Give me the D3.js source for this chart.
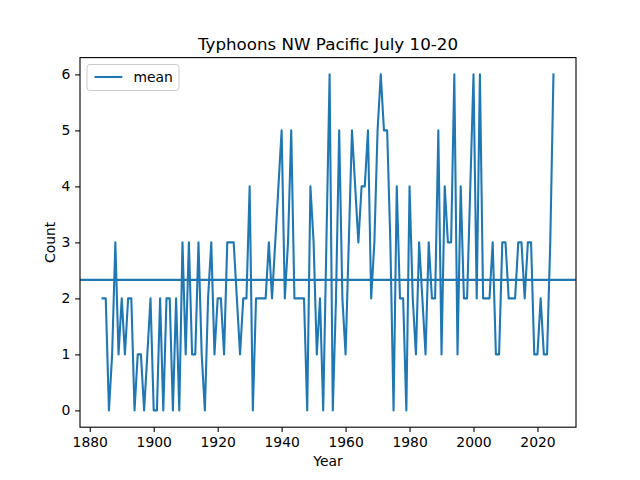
<!DOCTYPE html>
<html>
<head>
<meta charset="utf-8">
<script src="https://cdn.jsdelivr.net/npm/d3@7"></script>
<style>
  body { margin: 0; background: #fff; }
  text { font-family: "DejaVu Sans", sans-serif; }
</style>
</head>
<body>
<div id="chart"></div>
<script>
const width = 640;
const height = 480;

// typhoon counts per year
const years = d3.range(1884, 2026);
const counts = [
  2, 2, 0, 1, 3, 1, 2, 1, 2, 2,   // 1884-1893
  0, 1, 1, 0, 1, 2, 0, 0, 2, 0,   // 1894-1903
  2, 2, 0, 2, 0, 3, 1, 3, 1, 1,   // 1904-1913
  3, 1, 0, 2, 3, 1, 2, 2, 1, 3,   // 1914-1923
  3, 3, 2, 1, 2, 2, 4, 0, 2, 2,   // 1924-1933
  2, 2, 3, 2, 3, 4, 5, 2, 3, 5,   // 1934-1943
  2, 2, 2, 2, 0, 4, 3, 1, 2, 0,   // 1944-1953
  3, 6, 0, 2, 5, 2, 1, 3, 5, 4,   // 1954-1963
  3, 4, 4, 5, 2, 3, 5, 6, 5, 5,   // 1964-1973
  3, 0, 4, 2, 2, 0, 4, 2, 1, 3,   // 1974-1983
  2, 1, 3, 2, 2, 5, 1, 4, 3, 3,   // 1984-1993
  6, 1, 4, 2, 2, 4, 6, 2, 6, 2,   // 1994-2003
  2, 2, 3, 1, 1, 3, 3, 2, 2, 2,   // 2004-2013
  3, 3, 2, 3, 3, 1, 1, 2, 1, 1,   // 2014-2023
  3, 6                            // 2024-2025
];
const xTicks = [1880, 1900, 1920, 1940, 1960, 1980, 2000, 2020];
const yTicks = [0, 1, 2, 3, 4, 5, 6];

const data = years.map((y, i) => ({ year: y, count: counts[i] }));
const mean = d3.mean(counts);

const m = { left: 80, right: 576, top: 57.6, bottom: 427.2 };
const blue = "#1f77b4";
const fs = 13.9;

const svg = d3
  .select("#chart")
  .append("svg")
  .attr("width", width)
  .attr("height", height);

// matplotlib style 5% margins
const xSpan = d3.max(years) - d3.min(years);
const x = d3
  .scaleLinear()
  .domain([d3.min(years) - xSpan * 0.05, d3.max(years) + xSpan * 0.05])
  .range([m.left, m.right]);

const y = d3
  .scaleLinear()
  .domain([-0.3, 6.3])
  .range([m.bottom, m.top]);

const line = d3
  .line()
  .x((d) => x(d.year))
  .y((d) => y(d.count));

svg
  .append("path")
  .datum(data)
  .attr("d", line)
  .attr("fill", "none")
  .attr("stroke", blue)
  .attr("stroke-width", 2.08)
  .attr("stroke-linejoin", "round")
  .attr("stroke-linecap", "square");

// mean line across the whole axes
svg
  .append("line")
  .attr("x1", m.left)
  .attr("x2", m.right)
  .attr("y1", y(mean))
  .attr("y2", y(mean))
  .attr("stroke", blue)
  .attr("stroke-width", 2.08);

// axes
const xAxis = svg
  .append("g")
  .attr("transform", `translate(0,${m.bottom})`)
  .call(d3.axisBottom(x).tickValues(xTicks).tickFormat(d3.format("d")).tickSize(4.86).tickPadding(4.86));

const yAxis = svg
  .append("g")
  .attr("transform", `translate(${m.left},0)`)
  .call(d3.axisLeft(y).tickValues(yTicks).tickFormat(d3.format("d")).tickSize(4.86).tickPadding(4.86));

[xAxis, yAxis].forEach((g) => {
  g.select(".domain").remove();
  g.selectAll(".tick line").attr("stroke", "#000").attr("stroke-width", 1.1);
  g.selectAll(".tick text")
    .attr("fill", "#000")
    .style("font-family", "DejaVu Sans, sans-serif")
    .style("font-size", fs + "px");
});

svg
  .append("rect")
  .attr("x", m.left)
  .attr("y", m.top)
  .attr("width", m.right - m.left)
  .attr("height", m.bottom - m.top)
  .attr("fill", "none")
  .attr("stroke", "#000")
  .attr("stroke-width", 1.1);

// title and axis labels
svg
  .append("text")
  .attr("x", (m.left + m.right) / 2)
  .attr("y", 49.5)
  .attr("text-anchor", "middle")
  .style("font-size", "16.7px")
  .text("Typhoons NW Pacific July 10-20");

svg
  .append("text")
  .attr("x", (m.left + m.right) / 2)
  .attr("y", 466)
  .attr("text-anchor", "middle")
  .style("font-size", fs + "px")
  .text("Year");

svg
  .append("text")
  .attr("transform", `translate(55,${(m.top + m.bottom) / 2}) rotate(-90)`)
  .attr("text-anchor", "middle")
  .style("font-size", fs + "px")
  .text("Count");

// legend
const legend = svg.append("g").attr("transform", `translate(87,64.5)`);
legend
  .append("rect")
  .attr("width", 92)
  .attr("height", 26)
  .attr("rx", 2.8)
  .attr("fill", "#fff")
  .attr("fill-opacity", 0.8)
  .attr("stroke", "#cccccc")
  .attr("stroke-width", 1);
legend
  .append("line")
  .attr("x1", 7.5)
  .attr("x2", 35.3)
  .attr("y1", 12.5)
  .attr("y2", 12.5)
  .attr("stroke", blue)
  .attr("stroke-width", 2.08);
legend
  .append("text")
  .attr("x", 46.4)
  .attr("y", 17.5)
  .style("font-size", fs + "px")
  .text("mean");
</script>
</body>
</html>
